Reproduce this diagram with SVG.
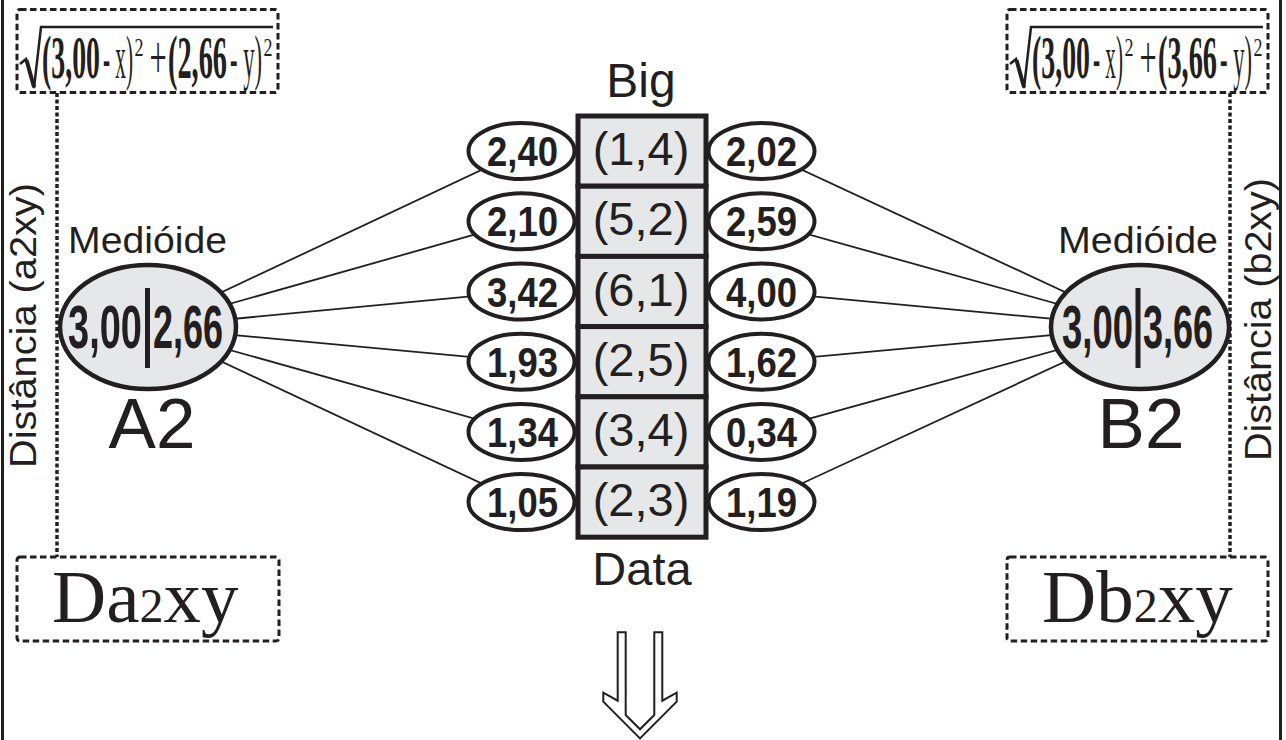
<svg xmlns="http://www.w3.org/2000/svg" width="1286" height="740" viewBox="0 0 1286 740">
<defs>
<style>
.sans{font-family:"Liberation Sans",Arial,sans-serif;fill:#231f20}
.serif{font-family:"Liberation Serif","Times New Roman",serif;fill:#231f20}
.b{font-weight:bold}
.dbox{fill:none;stroke:#231f20;stroke-width:3;stroke-dasharray:6.5 3.5}
.dline{stroke:#231f20;stroke-width:3.5;stroke-dasharray:4 2.5}
.conn{stroke:#231f20;stroke-width:1.8;fill:none}
.big{fill:#e6e7e8;stroke:#231f20;stroke-width:4.5}
.small{fill:#fff;stroke:#231f20;stroke-width:4}
.cell{fill:#e6e7e8;stroke:#231f20;stroke-width:5}
.val{font-size:43px;text-anchor:start}
.coord{font-size:47px;text-anchor:middle}
.frm{font-size:62px}
.sup{font-size:25px}
.mv{font-size:62px;font-weight:bold}
</style>
</defs>
<rect width="1286" height="740" fill="#fff"/>
<g id="frame" stroke="#231f20" stroke-width="3">
<line x1="2.5" y1="0" x2="2.5" y2="740"/>
<line x1="1280.5" y1="0" x2="1280.5" y2="740"/>
</g>

<g id="connectors">
<line class="conn" x1="148" y1="327" x2="521.5" y2="151"/>
<line class="conn" x1="148" y1="327" x2="521.5" y2="221.3"/>
<line class="conn" x1="148" y1="327" x2="521.5" y2="291.5"/>
<line class="conn" x1="148" y1="327" x2="521.5" y2="361.7"/>
<line class="conn" x1="148" y1="327" x2="521.5" y2="431.9"/>
<line class="conn" x1="148" y1="327" x2="521.5" y2="502.1"/>
<line class="conn" x1="1140" y1="327" x2="761.5" y2="151"/>
<line class="conn" x1="1140" y1="327" x2="761.5" y2="221.3"/>
<line class="conn" x1="1140" y1="327" x2="761.5" y2="291.5"/>
<line class="conn" x1="1140" y1="327" x2="761.5" y2="361.7"/>
<line class="conn" x1="1140" y1="327" x2="761.5" y2="431.9"/>
<line class="conn" x1="1140" y1="327" x2="761.5" y2="502.1"/>
<line class="dline" x1="57" y1="93" x2="57" y2="557"/>
<line class="dline" x1="1230" y1="93" x2="1230" y2="557"/>
</g>

<g id="formulaA">
<rect class="dbox" x="17" y="9.5" width="261" height="83" rx="3"/>
<polyline points="20,64 26,59 34,88 41,27 273,27" fill="none" stroke="#231f20" stroke-width="2.5"/>
<line x1="26.5" y1="60" x2="34" y2="87" stroke="#231f20" stroke-width="4"/>
<text class="serif frm b" transform="translate(42,78) scale(0.449,1)">(3,00</text>
<text class="serif frm" transform="translate(103,78) scale(0.342,1)">- x)</text>
<text class="serif sup" transform="translate(134.5,56) scale(0.72,1)">2</text>
<text class="serif frm" transform="translate(149.5,78) scale(0.49,1)">+</text>
<text class="serif frm b" transform="translate(168,78) scale(0.457,1)">(2,66</text>
<text class="serif frm" transform="translate(230,78) scale(0.364,1)">- y)</text>
<text class="serif sup" transform="translate(263.5,56) scale(0.72,1)">2</text>
</g>

<g id="formulaB">
<rect class="dbox" x="1007" y="9.5" width="261" height="83" rx="3"/>
<polyline points="1010,64 1016,59 1024,88 1031,27 1263,27" fill="none" stroke="#231f20" stroke-width="2.5"/>
<line x1="1016.5" y1="60" x2="1024" y2="87" stroke="#231f20" stroke-width="4"/>
<text class="serif frm b" transform="translate(1032,78) scale(0.449,1)">(3,00</text>
<text class="serif frm" transform="translate(1093,78) scale(0.342,1)">- x)</text>
<text class="serif sup" transform="translate(1124.5,56) scale(0.72,1)">2</text>
<text class="serif frm" transform="translate(1139.5,78) scale(0.49,1)">+</text>
<text class="serif frm b" transform="translate(1158,78) scale(0.457,1)">(3,66</text>
<text class="serif frm" transform="translate(1220,78) scale(0.364,1)">- y)</text>
<text class="serif sup" transform="translate(1253.5,56) scale(0.72,1)">2</text>
</g>

<g id="resultA">
<rect class="dbox" x="17" y="557" width="262" height="84" rx="3"/>
<text class="serif" x="52" y="622" font-size="75">Da<tspan font-size="48">2</tspan>xy</text>
</g>
<g id="resultB">
<rect class="dbox" x="1007" y="557" width="261" height="84" rx="3"/>
<text class="serif" x="1042" y="622" font-size="75">Db<tspan font-size="48">2</tspan>xy</text>
</g>

<g id="labelA">
<text class="sans" transform="translate(36,325.5) rotate(-90)" font-size="36" text-anchor="middle" textLength="285" lengthAdjust="spacingAndGlyphs">Distância (a2xy)</text>
</g>
<g id="labelB">
<text class="sans" transform="translate(1271,319.5) rotate(-90)" font-size="36" text-anchor="middle" textLength="283" lengthAdjust="spacingAndGlyphs">Distância (b2xy)</text>
</g>

<g id="medoidA">
<text class="sans" x="68" y="253" font-size="37" textLength="159" lengthAdjust="spacingAndGlyphs">Medióide</text>
<ellipse class="big" cx="148" cy="327" rx="88" ry="62"/>
<text class="sans mv" transform="translate(68,348) scale(0.613,1)">3,00</text>
<rect x="145" y="288" width="5" height="80" fill="#231f20"/>
<text class="sans mv" transform="translate(153,348) scale(0.58,1)">2,66</text>
<text class="sans" x="152" y="448" font-size="71" text-anchor="middle">A2</text>
</g>

<g id="medoidB">
<text class="sans" x="1058" y="253" font-size="37" textLength="160" lengthAdjust="spacingAndGlyphs">Medióide</text>
<ellipse class="big" cx="1140" cy="327" rx="89" ry="62"/>
<text class="sans mv" transform="translate(1062,348) scale(0.588,1)">3,00</text>
<rect x="1135.5" y="288" width="5" height="80" fill="#231f20"/>
<text class="sans mv" transform="translate(1143,348) scale(0.58,1)">3,66</text>
<text class="sans" x="1141" y="448" font-size="71" text-anchor="middle">B2</text>
</g>

<g id="bigdata">
<text class="sans" x="641" y="97" font-size="48" text-anchor="middle">Big</text>
<rect class="cell" x="578" y="116" width="128" height="70.2"/>
<rect class="cell" x="578" y="186.2" width="128" height="70.2"/>
<rect class="cell" x="578" y="256.4" width="128" height="70.2"/>
<rect class="cell" x="578" y="326.6" width="128" height="70.2"/>
<rect class="cell" x="578" y="396.8" width="128" height="70.2"/>
<rect class="cell" x="578" y="467" width="128" height="70.2"/>
<text class="sans coord" x="641" y="165">(1,4)</text>
<text class="sans coord" x="641" y="235.3">(5,2)</text>
<text class="sans coord" x="641" y="305.5">(6,1)</text>
<text class="sans coord" x="641" y="375.7">(2,5)</text>
<text class="sans coord" x="641" y="445.9">(3,4)</text>
<text class="sans coord" x="641" y="516.1">(2,3)</text>
<text class="sans" x="642" y="585" font-size="47" text-anchor="middle">Data</text>
</g>

<g id="distA">
<ellipse class="small" cx="521.5" cy="151" rx="53" ry="28"/>
<ellipse class="small" cx="521.5" cy="221.3" rx="53" ry="28"/>
<ellipse class="small" cx="521.5" cy="291.5" rx="53" ry="28"/>
<ellipse class="small" cx="521.5" cy="361.7" rx="53" ry="28"/>
<ellipse class="small" cx="521.5" cy="431.9" rx="53" ry="28"/>
<ellipse class="small" cx="521.5" cy="502.1" rx="53" ry="28"/>
<text class="sans b val" x="487" y="166" textLength="71" lengthAdjust="spacingAndGlyphs">2,40</text>
<text class="sans b val" x="487" y="236.3" textLength="71" lengthAdjust="spacingAndGlyphs">2,10</text>
<text class="sans b val" x="487" y="306.5" textLength="71" lengthAdjust="spacingAndGlyphs">3,42</text>
<text class="sans b val" x="487" y="376.7" textLength="71" lengthAdjust="spacingAndGlyphs">1,93</text>
<text class="sans b val" x="487" y="446.9" textLength="71" lengthAdjust="spacingAndGlyphs">1,34</text>
<text class="sans b val" x="487" y="517.1" textLength="71" lengthAdjust="spacingAndGlyphs">1,05</text>
</g>

<g id="distB">
<ellipse class="small" cx="761.5" cy="151" rx="53" ry="28"/>
<ellipse class="small" cx="761.5" cy="221.3" rx="53" ry="28"/>
<ellipse class="small" cx="761.5" cy="291.5" rx="53" ry="28"/>
<ellipse class="small" cx="761.5" cy="361.7" rx="53" ry="28"/>
<ellipse class="small" cx="761.5" cy="431.9" rx="53" ry="28"/>
<ellipse class="small" cx="761.5" cy="502.1" rx="53" ry="28"/>
<text class="sans b val" x="726" y="166" textLength="71" lengthAdjust="spacingAndGlyphs">2,02</text>
<text class="sans b val" x="726" y="236.3" textLength="71" lengthAdjust="spacingAndGlyphs">2,59</text>
<text class="sans b val" x="726" y="306.5" textLength="71" lengthAdjust="spacingAndGlyphs">4,00</text>
<text class="sans b val" x="726" y="376.7" textLength="71" lengthAdjust="spacingAndGlyphs">1,62</text>
<text class="sans b val" x="726" y="446.9" textLength="71" lengthAdjust="spacingAndGlyphs">0,34</text>
<text class="sans b val" x="726" y="517.1" textLength="71" lengthAdjust="spacingAndGlyphs">1,19</text>
</g>

<g id="arrow">
<path d="M617.7,632.3 H625.7 V715 L640,729.3 L654.3,715 V632.3 H662.3 V700.7 L676.7,692.7 V701.7 L640,738.4 L603.3,701.7 V692.7 L617.7,700.7 Z" fill="#fff" stroke="#231f20" stroke-width="2"/>
</g>
</svg>
